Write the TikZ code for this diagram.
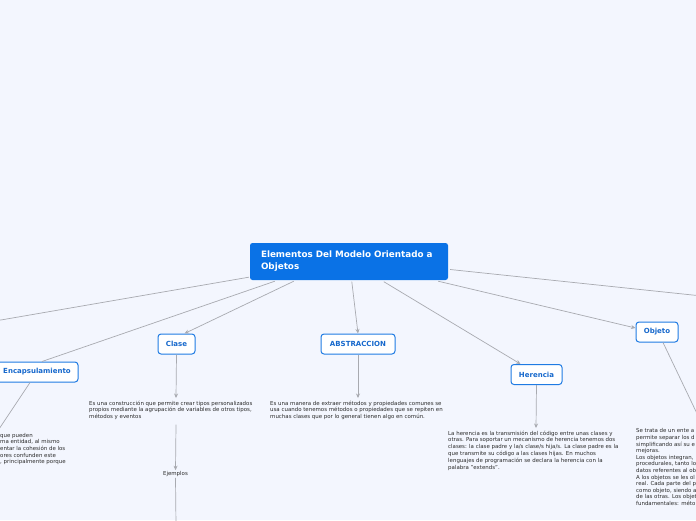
\documentclass[tikz,border=0pt]{standalone}
\usepackage{fontspec}
\setmainfont{DejaVu Sans}
\usetikzlibrary{arrows.meta,calc}
\definecolor{bg}{HTML}{F3F6FE}
\definecolor{rootblue}{HTML}{0A72E6}
\definecolor{childblue}{HTML}{1F7BE3}
\definecolor{childtext}{HTML}{1668CC}
\definecolor{linegray}{HTML}{A8AAB0}
\definecolor{txt}{HTML}{2A2A2A}
\tikzset{
  rootbox/.style={fill=rootblue, rounded corners=2.5pt, text=white, font=\fontsize{8.8}{12}\selectfont\bfseries, align=left, text width=176pt, minimum height=37pt, inner xsep=11pt, inner ysep=0pt},
  childbox/.style={fill=white, draw=childblue, line width=1pt, rounded corners=3pt, text=childtext, font=\fontsize{7}{7.5}\selectfont\bfseries, minimum height=20pt, inner xsep=4pt, inner ysep=0pt},
  bodytxt/.style={text=txt, font=\fontsize{5.45}{6.6}\selectfont, align=left, inner sep=0pt, anchor=north west},
  conn/.style={draw=linegray, line width=0.7pt},
  arr/.style={conn, -{Stealth[length=4.5pt,width=4pt]}}
}
\begin{document}
\begin{tikzpicture}[x=1pt,y=-1pt]
\fill[bg] (0,0) rectangle (696,520);
\useasboundingbox (0,0) rectangle (696,520);
\clip (0,0) rectangle (696,520);
% coordinates for free ends
\coordinate (offL) at (-5,321);
\coordinate (offR) at (702,296);
\coordinate (offObj) at (702,424);
\coordinate (offEnc) at (-3,432);
\coordinate (offEj) at (176,526);
% nodes
\node[rootbox] (root) at (349,261.5) {Elementos Del Modelo Orientado a\\Objetos};
\node[childbox, minimum width=82pt] (enc) at (37,372) {Encapsulamiento};
\node[childbox, minimum width=37pt] (clase) at (176.5,344) {Clase};
\node[childbox, minimum width=74pt] (abs) at (358,344) {ABSTRACCION};
\node[childbox, minimum width=51pt] (her) at (536.5,374.5) {Herencia};
\node[childbox, minimum width=42pt] (obj) at (657,332) {Objeto};
% body texts
\node[bodytxt] (clasetxt) at (89,400.5) {Es una construcción que permite crear tipos personalizados\\propios mediante la agrupación de variables de otros tipos,\\métodos y eventos};
\node[bodytxt] (abstxt) at (270,400.5) {Es una manera de extraer métodos y propiedades comunes se\\usa cuando tenemos métodos o propiedades que se repiten en\\muchas clases que por lo general tienen algo en común.};
\node[bodytxt, font=\fontsize{5.45}{6.9}\selectfont] (hertxt) at (448,430.5) {La herencia es la transmisión del código entre unas clases y\\otras. Para soportar un mecanismo de herencia tenemos dos\\clases: la clase padre y la/s clase/s hija/s. La clase padre es la\\que transmite su código a las clases hijas. En muchos\\lenguajes de programación se declara la herencia con la\\palabra "extends".};
\node[bodytxt] (objtxt) at (636,428.5) {Se trata de un ente a\\permite separar los d\\simplificando así su e\\mejoras.\\Los objetos integran,\\procedurales, tanto lo\\datos referentes al ob\\A los objetos se les ol\\real. Cada parte del p\\como objeto, siendo a\\de las otras. Los objet\\fundamentales: méto};
\node[bodytxt] (enctxt) at (0,433) {que pueden\\ma entidad, al mismo\\entar la cohesión de los\\ores confunden este\\, principalmente porque};
\node[text=txt, font=\fontsize{5.45}{6}\selectfont, inner sep=1pt] (ej) at (175.5,474) {Ejemplos};
% connectors
\draw[conn] ($(root.south west)+(-1,-3)$) -- (offL);
\draw[conn] ($(root.south west)+(25,1)$) -- ($(enc.north)+(5,0)$);
\draw[arr] ($(root.south west)+(44,1)$) -- ($(clase.north)+(8,0)$);
\draw[arr] ($(root.south west)+(102,1.5)$) -- (abs.north);
\draw[arr] ($(root.south west)+(134,1.5)$) -- ($(her.north)+(-16,0)$);
\draw[arr] ($(root.south east)+(-10,1)$) -- ($(obj.west)+(0,-4)$);
\draw[conn] ($(root.east)+(2,8)$) -- (offR);
\draw[conn] ($(obj.south)+(6,0)$) -- (offObj);
\draw[conn] ($(enc.south)+(-7,0)$) -- (offEnc);
\draw[arr] (clase.south) -- ($(clasetxt.north west)+(87,-2.5)$);
\draw[arr] ($(clasetxt.south west)+(87,5)$) -- (ej.north);
\draw[conn] (ej.south) -- (offEj);
\draw[arr] (abs.south) -- ($(abstxt.north west)+(88,-2.5)$);
\draw[arr] (her.south) -- ($(hertxt.north west)+(88,-2.5)$);
\end{tikzpicture}
\end{document}
